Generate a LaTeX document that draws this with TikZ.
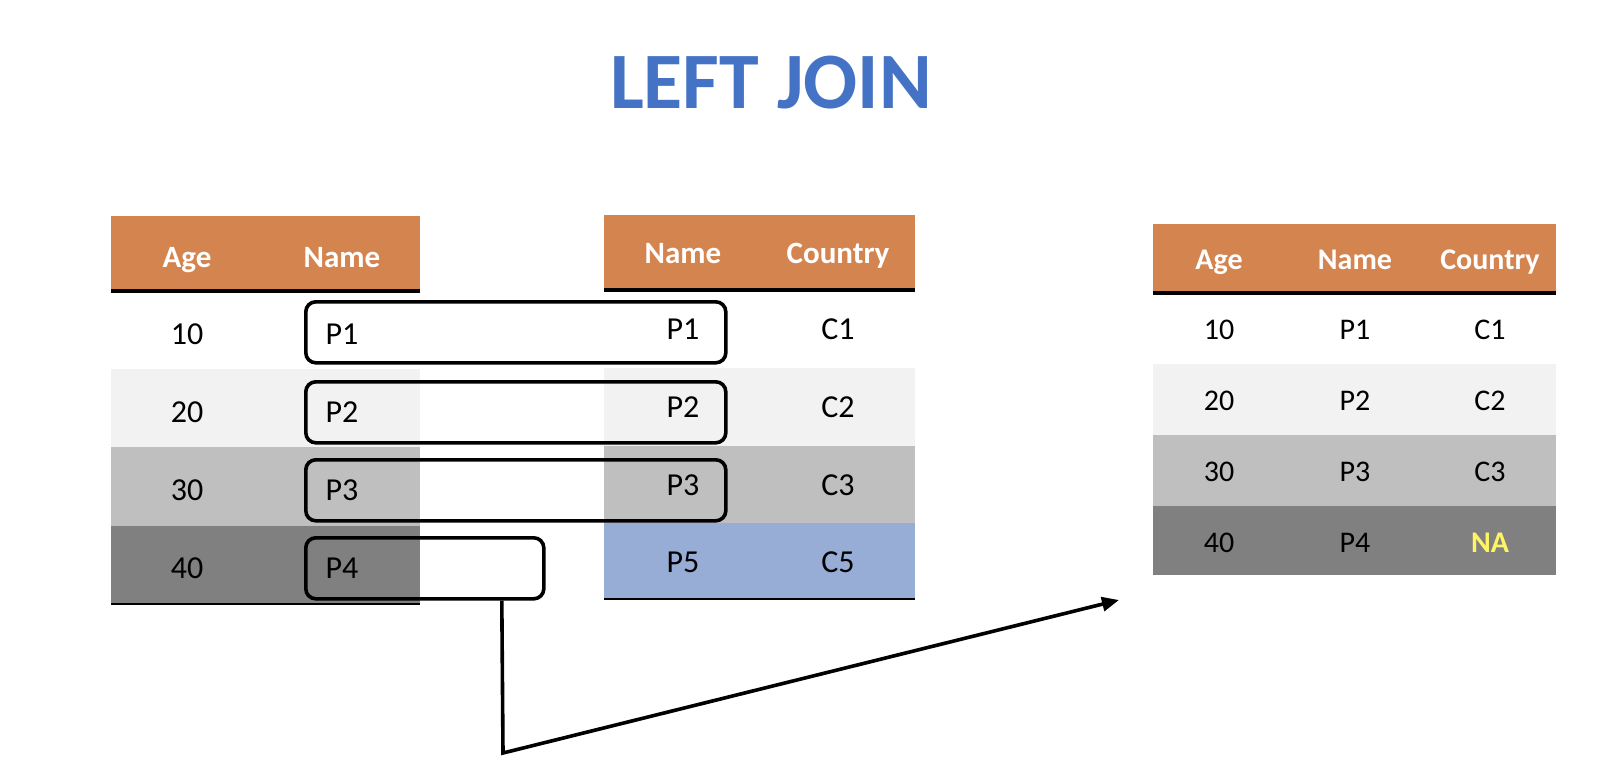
\documentclass[tikz,border=0pt]{standalone}
\usepackage{fontspec}
\setmainfont{Carlito}
\usetikzlibrary{arrows.meta}
\definecolor{hdrorange}{RGB}{212,132,78}
\definecolor{rowA}{RGB}{255,255,255}
\definecolor{rowB}{RGB}{242,242,242}
\definecolor{rowC}{RGB}{191,191,191}
\definecolor{rowD}{RGB}{128,128,128}
\definecolor{rowblue}{RGB}{151,173,214}
\definecolor{titleblue}{RGB}{68,114,196}
\definecolor{nayellow}{RGB}{255,245,100}
\tikzset{
  cellfill/.style={anchor=north west, inner sep=0pt, outer sep=0pt, draw=none},
  htext/.style={anchor=base, inner sep=0pt, text=white, font=\bfseries\fontsize{31}{31}\selectfont},
  btext/.style={anchor=base, inner sep=0pt, font=\fontsize{32}{32}\selectfont},
  htextR/.style={anchor=base, inner sep=0pt, text=white, font=\bfseries\fontsize{30}{30}\selectfont},
  btextR/.style={anchor=base, inner sep=0pt, font=\fontsize{30}{30}\selectfont},
  joinbox/.style={anchor=north west, inner sep=0pt, draw=black, line width=3.6pt, rounded corners=10pt},
  headrule/.style={line width=3.5pt},
  footrule/.style={line width=2pt},
  joinarrow/.style={line width=3.6pt, -{Triangle[length=17pt,width=14pt]}}
}
\begin{document}
\begin{tikzpicture}[x=1pt,y=-1pt]
\useasboundingbox (0,0) rectangle (1600,765);
\fill[white] (0,0) rectangle (1600,765);

% title
\node[anchor=base, inner sep=0pt, text=titleblue, font=\bfseries\fontsize{80}{80}\selectfont] (title) at (771,109) {LEFT JOIN};

% ---------- left table ----------
\node[cellfill, fill=hdrorange, minimum width=309pt, minimum height=75pt] (Lh) at (111,216) {};
\node[cellfill, fill=rowA, minimum width=309pt, minimum height=78pt] (L1) at (111,291) {};
\node[cellfill, fill=rowB, minimum width=309pt, minimum height=78pt] (L2) at (111,369) {};
\node[cellfill, fill=rowC, minimum width=309pt, minimum height=79pt] (L3) at (111,447) {};
\node[cellfill, fill=rowD, minimum width=309pt, minimum height=78pt] (L4) at (111,526) {};
\draw[headrule] (Lh.south west) -- (Lh.south east);
\draw[footrule] (L4.south west) -- (L4.south east);
\node[htext] (LhA) at (187,267) {Age};
\node[htext] (LhN) at (342,267) {Name};
\node[btext] (L1a) at (187,344) {10};
\node[btext] (L1n) at (342,344) {P1};
\node[btext] (L2a) at (187,422) {20};
\node[btext] (L2n) at (342,422) {P2};
\node[btext] (L3a) at (187,500) {30};
\node[btext] (L3n) at (342,500) {P3};
\node[btext] (L4a) at (187,578) {40};
\node[btext] (L4n) at (342,578) {P4};

% ---------- middle table ----------
\node[cellfill, fill=hdrorange, minimum width=311pt, minimum height=75pt] (Mh) at (604,215) {};
\node[cellfill, fill=rowA, minimum width=311pt, minimum height=78pt] (M1) at (604,290) {};
\node[cellfill, fill=rowB, minimum width=311pt, minimum height=78pt] (M2) at (604,368) {};
\node[cellfill, fill=rowC, minimum width=311pt, minimum height=77pt] (M3) at (604,446) {};
\node[cellfill, fill=rowblue, minimum width=311pt, minimum height=76pt] (M4) at (604,523) {};
\draw[headrule] (Mh.south west) -- (Mh.south east);
\draw[footrule] (M4.south west) -- (M4.south east);
\node[htext] (MhN) at (683,263) {Name};
\node[htext] (MhC) at (838,263) {Country};
\node[btext] (M1n) at (683,339) {P1};
\node[btext] (M1c) at (838,339) {C1};
\node[btext] (M2n) at (683,417) {P2};
\node[btext] (M2c) at (838,417) {C2};
\node[btext] (M3n) at (683,495) {P3};
\node[btext] (M3c) at (838,495) {C3};
\node[btext] (M4n) at (683,572) {P5};
\node[btext] (M4c) at (838,572) {C5};

% ---------- join boxes ----------
\node[joinbox, minimum width=420pt, minimum height=61pt] (box1) at (304,300) {};
\node[joinbox, minimum width=420pt, minimum height=61pt] (box2) at (304,380) {};
\node[joinbox, minimum width=420pt, minimum height=61pt] (box3) at (304,458) {};
\node[joinbox, minimum width=238pt, minimum height=61pt] (box4) at (304,536) {};

% ---------- result table ----------
\node[cellfill, fill=hdrorange, minimum width=403pt, minimum height=69pt] (Rh) at (1153,224) {};
\node[cellfill, fill=rowA, minimum width=403pt, minimum height=71pt] (R1) at (1153,293) {};
\node[cellfill, fill=rowB, minimum width=403pt, minimum height=71pt] (R2) at (1153,364) {};
\node[cellfill, fill=rowC, minimum width=403pt, minimum height=71pt] (R3) at (1153,435) {};
\node[cellfill, fill=rowD, minimum width=403pt, minimum height=69pt] (R4) at (1153,506) {};
\draw[headrule] (Rh.south west) -- (Rh.south east);
\node[htextR] (RhA) at (1219,269) {Age};
\node[htextR] (RhN) at (1355,269) {Name};
\node[htextR] (RhC) at (1490,269) {Country};
\node[btextR] (R1a) at (1219,339) {10};
\node[btextR] (R1n) at (1355,339) {P1};
\node[btextR] (R1c) at (1490,339) {C1};
\node[btextR] (R2a) at (1219,410) {20};
\node[btextR] (R2n) at (1355,410) {P2};
\node[btextR] (R2c) at (1490,410) {C2};
\node[btextR] (R3a) at (1219,481) {30};
\node[btextR] (R3n) at (1355,481) {P3};
\node[btextR] (R3c) at (1490,481) {C3};
\node[btextR] (R4a) at (1219,552) {40};
\node[btextR] (R4n) at (1355,552) {P4};
\node[btextR, text=nayellow, font=\bfseries\fontsize{30}{30}\selectfont] (R4c) at (1490,552) {NA};

% ---------- arrow ----------
\coordinate (bend) at (503,753);
\coordinate (tip) at (1119,600);
\draw[joinarrow] ([xshift=77pt]box4.south) -- (bend) -- (tip);
\end{tikzpicture}
\end{document}
